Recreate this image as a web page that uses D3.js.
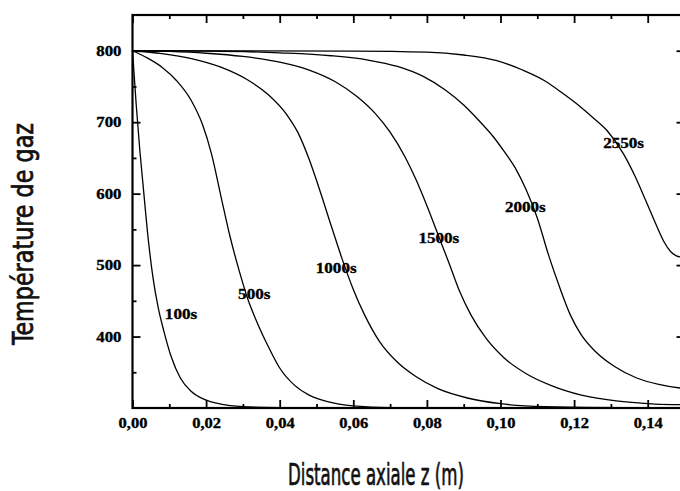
<!DOCTYPE html>
<html>
<head>
<meta charset="utf-8">
<script src="https://cdn.jsdelivr.net/npm/d3@7"></script>
<style>
  body { margin: 0; background: #fff; }
  svg { display: block; }
</style>
</head>
<body>
<div id="chart"></div>
<script>
var w = 680;
var h = 491;

// gas temperature profiles, [z (m), T]
var c100 = [[0,800],[0.001,725],[0.002,660],[0.003,605],[0.0042,540],[0.0055,485],[0.007,440],
  [0.0085,408],[0.0105,372],[0.013,342],[0.016,323],[0.0195,312],[0.024,305.5],[0.03,302],
  [0.04,300.5],[0.06,300],[0.15,300]];
var c500 = [[0,800],[0.004,790],[0.008,777],[0.012,758],[0.016,730],[0.019,697],[0.0215,655],
  [0.024,597],[0.0265,540],[0.029,492],[0.0315,450],[0.034,418],[0.037,385],[0.040,356],
  [0.044,332],[0.048,318],[0.053,309],[0.06,303],[0.07,300.5],[0.15,300]];
var c1000 = [[0,800],[0.008,796],[0.016,789],[0.024,777],[0.031,760],[0.037,738],[0.042,710],
  [0.045,685],[0.048,648],[0.051,603],[0.054,555],[0.057,508],[0.060,466],[0.063,431],
  [0.067,394],[0.072,364],[0.077,344],[0.083,327],[0.091,314],[0.1,306],[0.112,302],[0.15,300]];
var c1500 = [[0,800],[0.01,799],[0.02,796.5],[0.03,792],[0.04,784],[0.048,773],[0.055,757],
  [0.061,736],[0.066,712],[0.070,686],[0.074,652],[0.077,620],[0.080,583],[0.083,543],
  [0.086,503],[0.089,462],[0.092,430],[0.096,398],[0.101,370],[0.107,348],[0.114,331],
  [0.122,318],[0.132,309.5],[0.142,305.5],[0.15,304.5]];
var c2000 = [[0,800],[0.02,799.5],[0.04,797],[0.054,793],[0.064,787],[0.072,778],[0.079,764],
  [0.085,745],[0.090,724],[0.094,703],[0.098,680],[0.101,659],[0.104,636],[0.107,605],
  [0.110,566],[0.113,515],[0.116,470],[0.119,430],[0.122,402],[0.126,378],[0.131,358],
  [0.137,342],[0.143,333],[0.1488,328],[0.15,327.5]];
var c2550 = [[0,800],[0.06,799.5],[0.08,798],[0.09,794],[0.099,786],[0.106,773],[0.112,758],
  [0.117,740],[0.1216,722],[0.125,707],[0.129,688],[0.1335,655],[0.1365,625],[0.1395,590],
  [0.1425,554],[0.1445,532],[0.1462,519],[0.1478,513],[0.1488,511.5],[0.15,511]];

var curves = [c100, c500, c1000, c1500, c2000, c2550];
var curveNames = ["100s", "500s", "1000s", "1500s", "2000s", "2550s"];
// where each label sits, [z, T]
var labelPos = [[0.0088,424],[0.0287,452],[0.0498,488.5],[0.0777,530.5],[0.1012,574.7],[0.1279,663.5]];

var xMajor = [0, 0.02, 0.04, 0.06, 0.08, 0.10, 0.12, 0.14];
var xMinor = [0.01, 0.03, 0.05, 0.07, 0.09, 0.11, 0.13, 0.15];
var yMajor = [400, 500, 600, 700, 800];
var yMinor = [350, 450, 550, 650, 750];

var xScale = d3.scaleLinear().domain([0, 0.15]).range([132.5, 684.5]);
var yScale = d3.scaleLinear().domain([300, 850]).range([408, 15]);

var svg = d3.select("#chart").append("svg")
  .attr("width", w)
  .attr("height", h);

var fmt = function(d) { return d3.format(".2f")(d).replace(".", ","); };
var tickFont = "'Liberation Serif', 'Times New Roman', serif";
var titleFont = "'DejaVu Sans Condensed', 'Liberation Sans Narrow', sans-serif";

// the original glyphs are a bit wider than Times
function stretch(sel, k) {
  sel.each(function() {
    var len = this.getComputedTextLength();
    d3.select(this).attr("textLength", len * k).attr("lengthAdjust", "spacingAndGlyphs");
  });
}

function styleAxis(g) {
  g.select(".domain").remove();
  g.selectAll(".tick line").attr("stroke", "#000").attr("stroke-width", 1.8);
  g.selectAll("text")
    .attr("font-family", tickFont)
    .attr("font-weight", "bold")
    .attr("font-size", "15px")
    .attr("fill", "#000")
    .attr("stroke", "#000")
    .attr("stroke-width", 0.35);
}

// bottom
svg.append("g").attr("transform", "translate(0," + yScale(300) + ")")
  .call(d3.axisBottom(xScale).tickValues(xMajor).tickSize(-8).tickPadding(9).tickFormat(fmt))
  .call(styleAxis)
  .selectAll("text").call(stretch, 1.1);
svg.append("g").attr("transform", "translate(0," + yScale(300) + ")")
  .call(d3.axisBottom(xScale).tickValues(xMinor).tickSize(-4).tickFormat(""))
  .call(styleAxis);
// top
svg.append("g").attr("transform", "translate(0," + yScale(850) + ")")
  .call(d3.axisTop(xScale).tickValues(xMajor).tickSize(-8).tickFormat(""))
  .call(styleAxis);
svg.append("g").attr("transform", "translate(0," + yScale(850) + ")")
  .call(d3.axisTop(xScale).tickValues(xMinor).tickSize(-4).tickFormat(""))
  .call(styleAxis);
// left
svg.append("g").attr("transform", "translate(" + xScale(0) + ",0)")
  .call(d3.axisLeft(yScale).tickValues(yMajor).tickSize(-8).tickPadding(11).tickFormat(d3.format("d")))
  .call(styleAxis)
  .selectAll("text").call(stretch, 1.12);
svg.append("g").attr("transform", "translate(" + xScale(0) + ",0)")
  .call(d3.axisLeft(yScale).tickValues(yMinor).tickSize(-4).tickFormat(""))
  .call(styleAxis);
// right
svg.append("g").attr("transform", "translate(" + xScale(0.15) + ",0)")
  .call(d3.axisRight(yScale).tickValues(yMajor).tickSize(-8).tickFormat(""))
  .call(styleAxis);
svg.append("g").attr("transform", "translate(" + xScale(0.15) + ",0)")
  .call(d3.axisRight(yScale).tickValues(yMinor).tickSize(-4).tickFormat(""))
  .call(styleAxis);

// frame
svg.append("rect")
  .attr("x", xScale(0))
  .attr("y", yScale(850))
  .attr("width", xScale(0.15) - xScale(0))
  .attr("height", yScale(300) - yScale(850))
  .attr("fill", "none")
  .attr("stroke", "#000")
  .attr("stroke-width", 2.2);

var line = d3.line()
  .x(function(d) { return xScale(d[0]); })
  .y(function(d) { return yScale(d[1]); })
  .curve(d3.curveMonotoneX);

svg.selectAll("path.curve")
  .data(curves)
  .enter()
  .append("path")
  .attr("class", "curve")
  .attr("d", line)
  .attr("fill", "none")
  .attr("stroke", "#000")
  .attr("stroke-width", 1.3);

svg.selectAll("text.lbl")
  .data(curveNames)
  .enter()
  .append("text")
  .attr("class", "lbl")
  .text(function(d) { return d; })
  .attr("x", function(d, i) { return xScale(labelPos[i][0]); })
  .attr("y", function(d, i) { return yScale(labelPos[i][1]); })
  .attr("font-family", tickFont)
  .attr("font-weight", "bold")
  .attr("font-size", "15px")
  .attr("fill", "#000")
  .attr("stroke", "#000")
  .attr("stroke-width", 0.35)
  .call(stretch, 1.14);

// axis titles
svg.append("text")
  .text("Distance axiale z (m)")
  .attr("x", 288)
  .attr("y", 485)
  .attr("font-family", titleFont)
  .attr("font-size", "30px")
  .attr("fill", "#111")
  .attr("stroke", "#111")
  .attr("stroke-width", 0.7)
  .attr("textLength", 176)
  .attr("lengthAdjust", "spacingAndGlyphs");

svg.append("text")
  .text("Température de gaz")
  .attr("transform", "translate(33,234) rotate(-90)")
  .attr("text-anchor", "middle")
  .attr("font-family", titleFont)
  .attr("font-size", "29px")
  .attr("fill", "#111")
  .attr("stroke", "#111")
  .attr("stroke-width", 0.7)
  .attr("textLength", 222)
  .attr("lengthAdjust", "spacingAndGlyphs");
</script>
</body>
</html>
